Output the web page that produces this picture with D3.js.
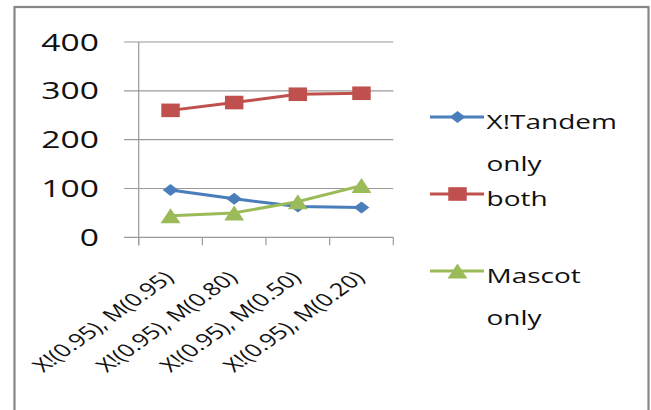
<!DOCTYPE html>
<html>
<head>
<meta charset="utf-8">
<script src="https://cdn.jsdelivr.net/npm/d3@7/dist/d3.min.js"></script>
<style>
  html, body { margin: 0; padding: 0; background: #ffffff; }
  svg { display: block; }
  text { font-family: "Open Sans", sans-serif; fill: #111; }
</style>
</head>
<body>
<script>
// ---- data ----
const categories = ["X!(0.95), M(0.95)", "X!(0.95), M(0.80)", "X!(0.95), M(0.50)", "X!(0.95), M(0.20)"];
const xtandemOnly = [97, 79, 63, 61];
const both = [260, 276, 293, 295];
const mascotOnly = [44, 50, 73, 106];
const yTicks = [0, 100, 200, 300, 400];
const seriesNames = ["X!Tandem only", "both", "Mascot only"];
const seriesColors = ["#4A7EBB", "#C0504D", "#9BBB59"];
const seriesShapes = ["diamond", "square", "triangle"];

const series = seriesNames.map((name, i) => ({
  name, color: seriesColors[i], shape: seriesShapes[i],
  values: [xtandemOnly, both, mascotOnly][i]
}));

// ---- layout ----
const W = 651, H = 410;
const sx = 1.4; // horizontal stretch of the original picture

const svg = d3.select("body").append("svg").attr("width", W).attr("height", H);

// outer chart frame
svg.append("rect")
  .attr("x", 14.5).attr("y", 7).attr("width", 634).attr("height", 430)
  .attr("fill", "#fff").attr("stroke", "#878787").attr("stroke-width", 2.2);

const g = svg.append("g").attr("transform", `scale(${sx},1)`);

const x = d3.scaleBand().domain(categories).range([138.7 / sx, 393.3 / sx]).padding(0);
const y = d3.scaleLinear().domain([0, 400]).range([237.3, 42]);

const plotL = x.range()[0], plotR = x.range()[1];

// gridlines (with outer tick extension to the left)
g.append("g").selectAll("line").data(yTicks).join("line")
  .attr("x1", 124 / sx).attr("x2", plotR)
  .attr("y1", d => y(d)).attr("y2", d => y(d))
  .attr("stroke", "#9a9a9a").attr("stroke-width", 1.2);

// vertical axis line
g.append("line")
  .attr("x1", plotL).attr("x2", plotL)
  .attr("y1", y(400)).attr("y2", y(0) + 8)
  .attr("stroke", "#9a9a9a").attr("stroke-width", 1.2 / sx);

// category boundary ticks
const bounds = d3.range(categories.length + 1).map(i => plotL + i * x.bandwidth());
g.append("g").selectAll("line").data(bounds).join("line")
  .attr("x1", d => d).attr("x2", d => d)
  .attr("y1", y(0)).attr("y2", y(0) + 8)
  .attr("stroke", "#9a9a9a").attr("stroke-width", 1.2 / sx);

// y tick labels
g.append("g").selectAll("text").data(yTicks).join("text")
  .attr("x", 99 / sx).attr("y", d => y(d)).attr("dy", "0.36em")
  .attr("text-anchor", "end").style("font-size", "24px")
  .text(d => d);

// x labels rotated
g.append("g").selectAll("text").data(categories).join("text")
  .attr("transform", d => `translate(${x(d) + x.bandwidth() / 2 + 4.5 / sx},279) rotate(-45)`)
  .attr("text-anchor", "end").style("font-size", "18px")
  .text(d => d);

// marker shapes (unstretched coords, centered at 0,0)
function markerPath(shape) {
  if (shape === "diamond") return "M0,-6L5.6,0L0,6L-5.6,0Z";
  if (shape === "square") return "M-6.6,-6.8H6.6V6.8H-6.6Z";
  return "M0,-7.5L7.1,7.5L-7.1,7.5Z";
}

const line = d3.line().x((d, i) => x(categories[i]) + x.bandwidth() / 2).y(d => y(d));

series.forEach(s => {
  g.append("path").datum(s.values)
    .attr("d", line).attr("fill", "none")
    .attr("stroke", s.color).attr("stroke-width", 3).attr("stroke-linejoin", "round");
  g.append("g").selectAll("path").data(s.values).join("path")
    .attr("transform", (d, i) => `translate(${x(categories[i]) + x.bandwidth() / 2},${y(d)})`)
    .attr("d", markerPath(s.shape)).attr("fill", s.color);
});

// legend
const legendY = [117, 194, 271];
series.forEach((s, i) => {
  const ly = legendY[i];
  g.append("line")
    .attr("x1", 430 / sx).attr("x2", 484 / sx).attr("y1", ly).attr("y2", ly)
    .attr("stroke", s.color).attr("stroke-width", 3);
  g.append("path").attr("transform", `translate(${457.5 / sx},${ly})`)
    .attr("d", markerPath(s.shape)).attr("fill", s.color);
  const t = g.append("text").attr("x", 486.5 / sx).attr("y", ly + 12).style("font-size", "20px");
  s.name.split(" ").forEach((w, j) => {
    t.append("tspan").attr("x", 486.5 / sx).attr("dy", j === 0 ? 0 : 42).text(w);
  });
});
</script>
</body>
</html>
